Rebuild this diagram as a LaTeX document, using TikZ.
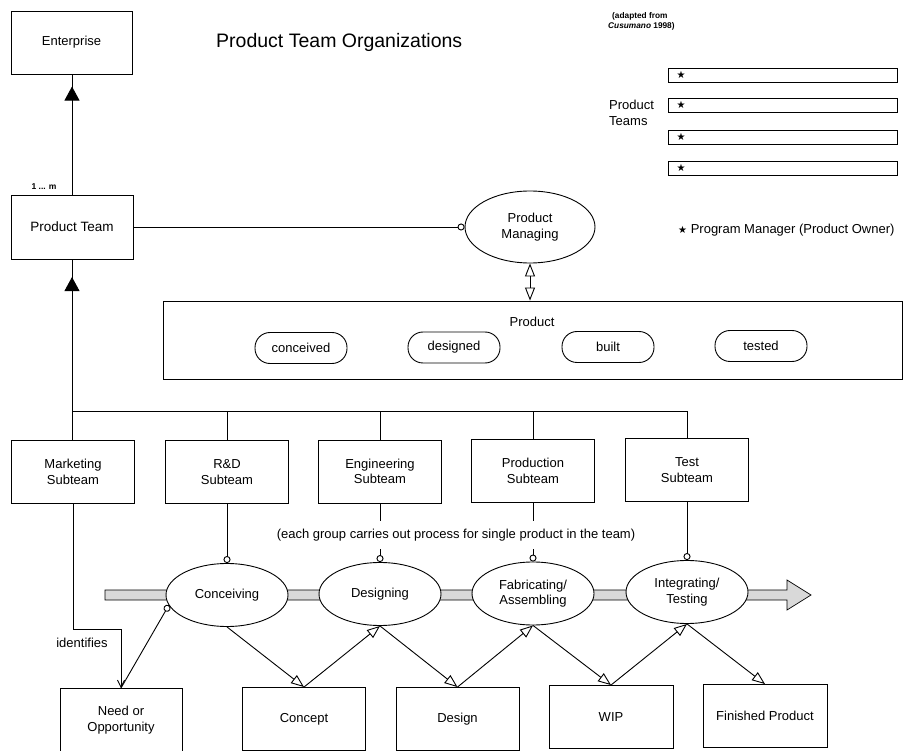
\documentclass[tikz,border=0pt]{standalone}
\usepackage{fontspec}
\setmainfont{Liberation Sans}
\newfontfamily\symfont{DejaVu Sans}
\usetikzlibrary{arrows.meta,shapes.geometric,decorations.markings}

\newcommand{\fs}[1]{\fontsize{#1}{\fpeval{#1*1.18}}\selectfont}

\begin{document}
\begin{tikzpicture}[x=1pt,y=-1pt,
  every node/.style={inner sep=0pt, align=center, font=\fontsize{13}{15.5}\selectfont},
  line/.style={line width=0.9pt},
  box/.style={draw, line width=0.9pt, minimum width=123pt, minimum height=63pt},
  proc/.style={draw, ellipse, fill=white, line width=0.9pt, minimum width=122pt, minimum height=63pt},
  pill/.style={draw, rounded corners=15pt, line width=0.9pt, minimum width=92pt, minimum height=31pt},
  teambar/.style={draw, line width=0.9pt, minimum width=229pt, minimum height=14pt},
  knob/.style={line, -{Circle[length=7pt, fill=white]}},
  flow/.style={line, -{Triangle[open, length=13pt, width=10pt]}},
  twoway/.style={line, {Triangle[open, length=13pt, width=10pt]}-{Triangle[open, length=13pt, width=10pt]}},
  barb/.style={line, -{Straight Barb[length=7pt, width=7pt]}},
  inherit/.style={line, postaction=decorate,
    decoration={markings, mark=at position #1 with {\arrow{Triangle[length=14pt, width=15pt]}}}},
]
\useasboundingbox (0,0) rectangle (908,751);

% ---- headings ----
\node[anchor=west, font=\fs{19.5}] (title) at (216,42) {Product Team Organizations};
\node[anchor=west, font=\bfseries\fs{8.3}, align=left] (src) at (608,21)
  {\hspace*{4pt}(adapted from\\\textit{Cusumano} 1998)};

% ---- product team legend ----
\node[anchor=west, align=left] (ptl) at (609,113) {Product\\Teams};
\foreach \i/\y in {1/75,2/105,3/137,4/168}{
  \node[teambar] (bar\i) at (782.5,\y) {};
  \node[font=\symfont\fs{10}] (star\i) at (681,\y) {★};
}
\node[anchor=west] (pmgr) at (678,230) {{\symfont\fs{10}★} Program Manager (Product Owner)};

% ---- organisation ----
\node[box, minimum width=121pt] (ent) at (71.5,42.5) {Enterprise};
\node[box, minimum width=122pt, minimum height=64pt, font=\fs{13.5}] (pt) at (72,227) {Product Team};
\node[font=\bfseries\fs{8.5}] (mult) at (44,187) {1 ... m};
\node[proc, minimum width=130pt, minimum height=72pt] (pm) at (530,227) {Product\\Managing};

\node[draw, line width=0.9pt, minimum width=739pt, minimum height=78pt] (prod) at (532.5,340) {};
\node (prodl) at (532,322) {Product};
\node[pill] (c1) at (301,348) {conceived};
\node[pill] (c2) at (454,347.5) {designed};
\node[pill] (c3) at (608,347) {built};
\node[pill] (c4) at (761,346) {tested};

% ---- subteams ----
\node[box] (mkt) at (73,472) {Marketing\\Subteam};
\node[box] (rd) at (227,472) {R\&D\\Subteam};
\node[box] (eng) at (380,471.5) {Engineering\\Subteam};
\node[box] (pdn) at (533,471) {Production\\Subteam};
\node[box] (tst) at (687,470) {Test\\Subteam};

% ---- value stream band ----
\fill[gray!30] (105,590) -- (787,590) -- (787,580) -- (811,595) -- (787,610) -- (787,600) -- (105,600) -- cycle;
\draw[line width=0.7pt] (105,590) -- (787,590) -- (787,580) -- (811,595) -- (787,610) -- (787,600) -- (105,600) -- cycle;

% ---- processes ----
\node[proc] (conc) at (227,595) {Conceiving};
\node[proc] (desg) at (380,594) {Designing};
\node[proc] (fab) at (533,593.5) {Fabricating/\\Assembling};
\node[proc] (integ) at (687,592) {Integrating/\\Testing};

% ---- work products ----
\node[box, minimum width=122pt] (need) at (121,720) {Need or\\Opportunity};
\node[box] (concept) at (304,719) {Concept};
\node[box] (design) at (457.5,719) {Design};
\node[box, minimum width=124pt] (wip) at (611,717) {WIP};
\node[box, minimum width=124pt] (fin) at (765,716) {Finished Product};

% ---- connectors ----
\draw[inherit=108pt] (pt.north) -- (pt.north |- ent.south);
\draw[inherit=163pt] (pt.south |- mkt.north) -- (pt.south);
\draw[knob] (pt.east) -- (pm.west);
\draw[twoway] (pm.south) -- (pm.south |- prod.north);

\coordinate (bus) at (72,411);
\draw[line] (bus) -| (tst.north);
\draw[line] (rd.north) -- (rd.north |- bus);
\draw[line] (eng.north) -- (eng.north |- bus);
\draw[line] (pdn.north) -- (pdn.north |- bus);

\draw[knob] (rd.south) -- (conc.north);
\draw[knob] (eng.south) -- (desg.north);
\draw[knob] (pdn.south) -- (fab.north);
\draw[knob] (tst.south) -- (integ.north);

\node[fill=white, inner xsep=2pt, inner ysep=8pt] (note) at (456,535)
  {(each group carries out process for single product in the team)};

\coordinate (bend) at (73,629);
\draw[barb] (mkt.south) -- (bend) -| (need.north);
\node (ident) at (82,643) {identifies};
\draw[knob] (need.north) -- (conc.190);

\draw[flow] (conc.south) -- (concept.north);
\draw[flow] (concept.north) -- (desg.south);
\draw[flow] (desg.south) -- (design.north);
\draw[flow] (design.north) -- (fab.south);
\draw[flow] (fab.south) -- (wip.north);
\draw[flow] (wip.north) -- (integ.south);
\draw[flow] (integ.south) -- (fin.north);
\end{tikzpicture}
\end{document}
